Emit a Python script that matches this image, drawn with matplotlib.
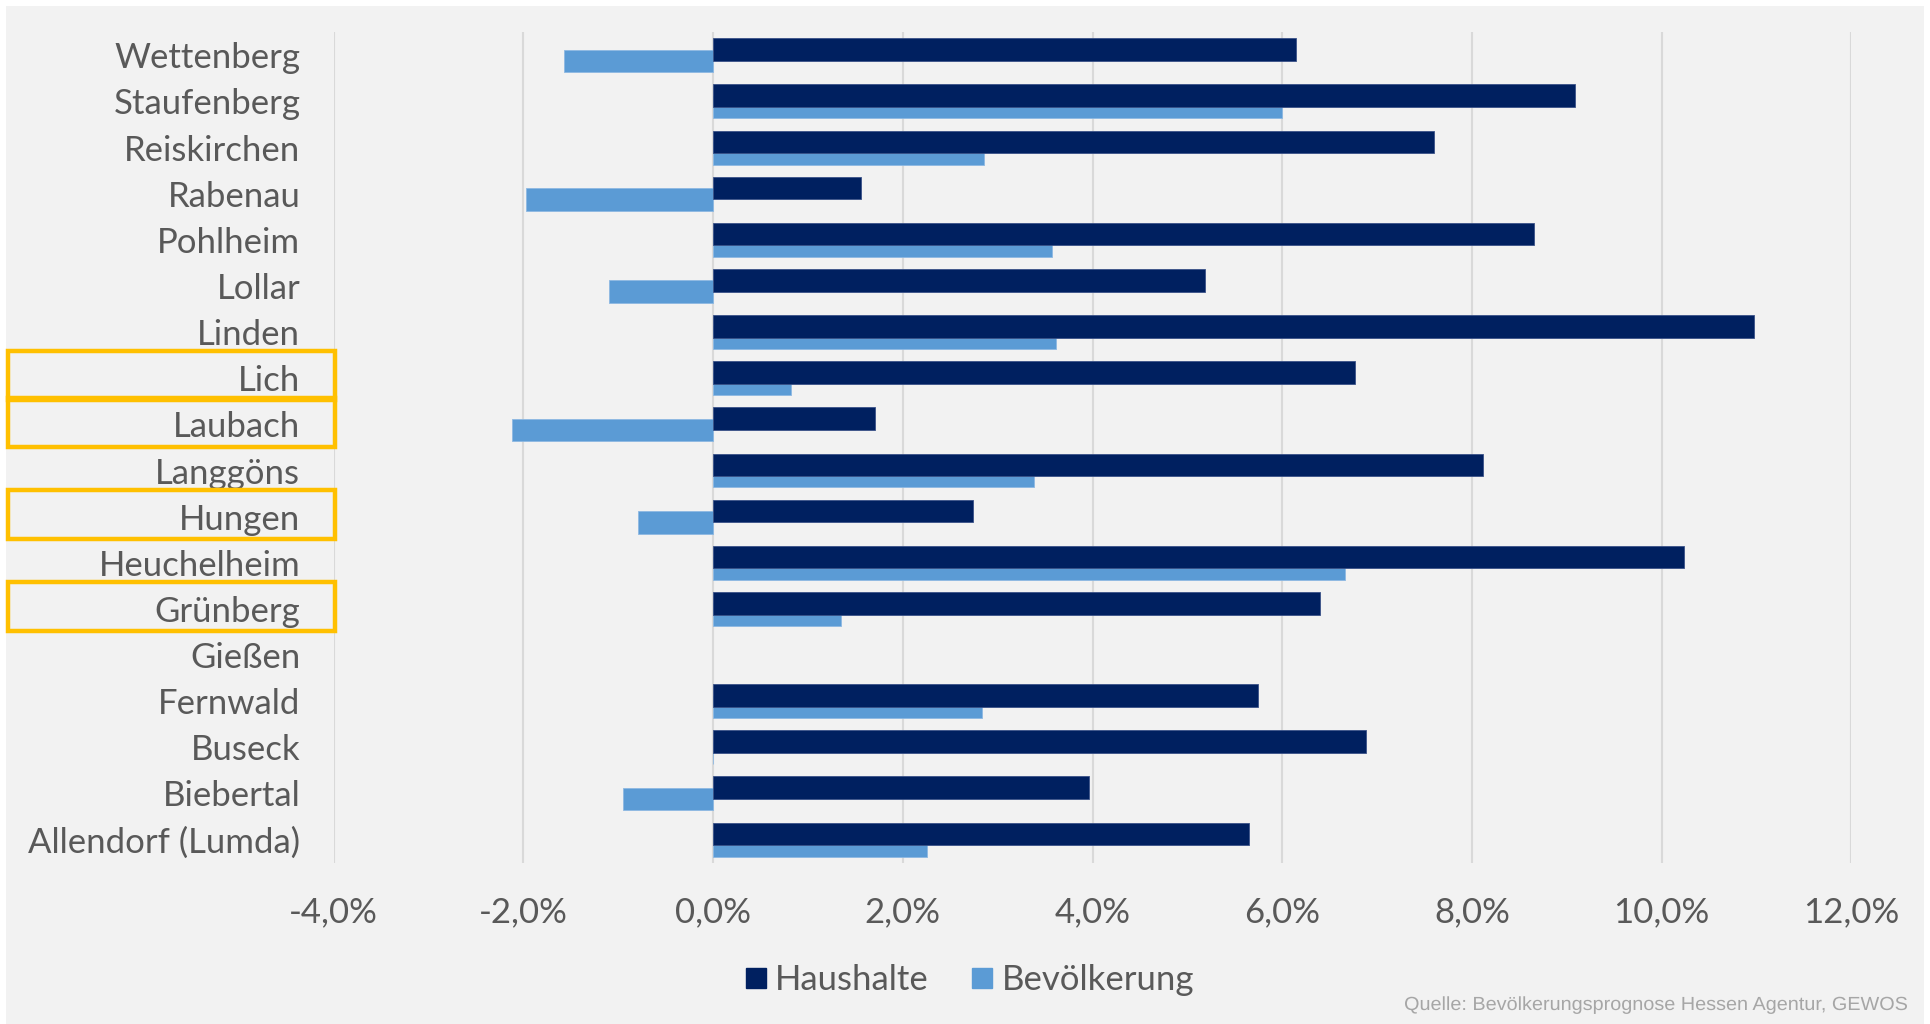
import numpy as np
import matplotlib
matplotlib.use("Agg")
import matplotlib.pyplot as plt
from matplotlib.patches import Rectangle, PathPatch
from matplotlib.lines import Line2D
from matplotlib.textpath import TextPath
from matplotlib.font_manager import FontProperties
import matplotlib.transforms as mtransforms

# Gemeinden im Landkreis Gießen, von oben nach unten
gemeinden = ['Wettenberg', 'Staufenberg', 'Reiskirchen', 'Rabenau', 'Pohlheim',
             'Lollar', 'Linden', 'Lich', 'Laubach', 'Langgöns', 'Hungen',
             'Heuchelheim', 'Grünberg', 'Gießen', 'Fernwald', 'Buseck',
             'Biebertal', 'Allendorf (Lumda)']

# Veränderung in Prozent
haushalte = [6.14, 9.09, 7.60, 1.56, 8.65, 5.18, 10.97, 6.77, 1.71, 8.12,
             2.74, 10.23, 6.40, np.nan, 5.74, 6.88, 3.96, 5.65]
bevoelkerung = [-1.57, 6.00, 2.86, -1.97, 3.57, -1.10, 3.61, 0.82, -2.12, 3.38,
                -0.79, 6.66, 1.35, np.nan, 2.83, 0.0, -0.95, 2.25]

markiert = ['Lich', 'Laubach', 'Hungen', 'Grünberg']
x_ticks = [-4, -2, 0, 2, 4, 6, 8, 10, 12]
quelle = 'Quelle: Bevölkerungsprognose Hessen Agentur, GEWOS'

dunkel = '#002060'
hell = '#5B9BD5'
text_grau = '#595959'

plt.rcParams['font.family'] = ['Lato', 'DejaVu Sans']

W, H = 1930, 1024
fig = plt.figure(figsize=(W / 100, H / 100), dpi=100, facecolor='white')
fig.patches.append(Rectangle((0.003, 0.0), 0.994, 0.994, transform=fig.transFigure,
                             facecolor='#F2F2F2', edgecolor='none', zorder=-10))

ax = fig.add_axes([0.1729, 0.1576, 0.9593 - 0.1729, 0.9685 - 0.1576])
ax.set_facecolor('none')

y = np.arange(len(gemeinden))
h = 0.49
ax.barh(y + h / 4, bevoelkerung, height=h, color=hell, edgecolor='#8DB8E2',
        linewidth=0.6, zorder=2, label='Bevölkerung')
ax.barh(y - h / 4, haushalte, height=h, color=dunkel, edgecolor='#3A5288',
        linewidth=0.6, zorder=3, label='Haushalte')

ax.set_xlim(-4, 12)
ax.set_ylim(len(gemeinden) - 0.5, -0.5)
ax.set_xticks(x_ticks)
ax.set_xticklabels([f'{v:.1f}%'.replace('.', ',') for v in x_ticks])
ax.set_yticks(y)
ax.set_yticklabels(gemeinden)
ax.tick_params(axis='both', length=0, labelsize=25, colors=text_grau)
ax.tick_params(axis='y', pad=24)
ax.tick_params(axis='x', pad=24)
ax.grid(axis='x', color='#D9D9D9', linewidth=1.5, zorder=1)
ax.set_axisbelow(True)
for s in ax.spines.values():
    s.set_visible(False)

# Rahmen um die hervorgehobenen Gemeinden
trans = mtransforms.blended_transform_factory(fig.transFigure, ax.transData)
for name in markiert:
    i = gemeinden.index(name)
    ax.add_patch(Rectangle((0.004, i - 0.58), 0.1735 - 0.004, 1.06, transform=trans,
                           fill=False, edgecolor='#FFC000', linewidth=3.2,
                           clip_on=False, zorder=5))

handles = [Line2D([], [], marker='s', linestyle='none', markersize=14,
                  markerfacecolor=dunkel, markeredgecolor=dunkel),
           Line2D([], [], marker='s', linestyle='none', markersize=14,
                  markerfacecolor=hell, markeredgecolor=hell)]
fig.legend(handles, ['Haushalte', 'Bevölkerung'], loc='center',
           bbox_to_anchor=(0.502, 0.043), ncol=2, frameon=False,
           fontsize=25, labelcolor=text_grau, handletextpad=0.2,
           columnspacing=1.2, handlelength=0.7)

# Quellenangabe in schmaler Schrift: Textpfad horizontal gestaucht
tp = TextPath((0, 0), quelle, size=19, prop=FontProperties(family='Liberation Sans'))
ext = tp.get_extents()
sx = 502 / ext.width
x_right, y_base = 1907, 1024 - 1010
tr = mtransforms.Affine2D().translate(-ext.x0, 0).scale(sx, 1).translate(x_right - 502, y_base)
fig.patches.append(PathPatch(tp, transform=tr, facecolor='#A6A6A6',
                             edgecolor='none', zorder=5))

fig.savefig('out.png', dpi=100, facecolor=fig.get_facecolor())
